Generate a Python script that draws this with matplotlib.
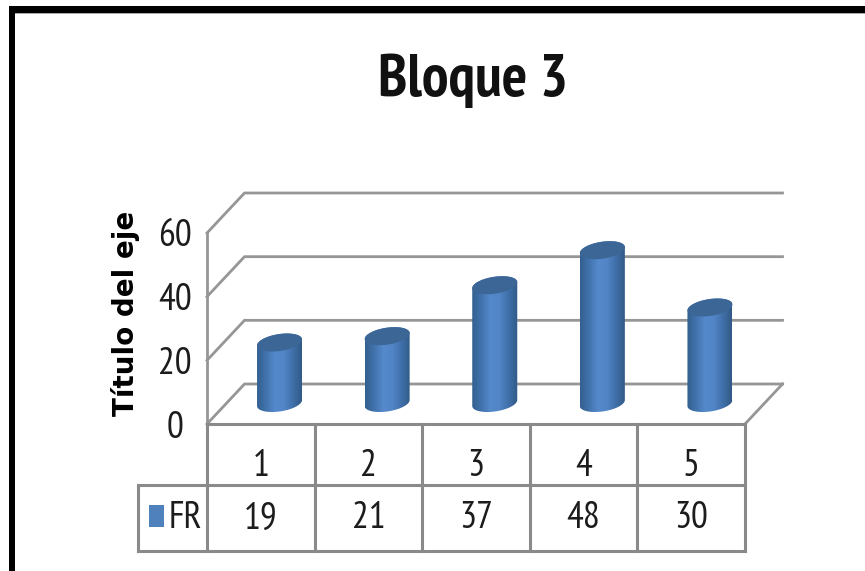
import numpy as np
import matplotlib.pyplot as plt
from matplotlib.colors import LinearSegmentedColormap
from matplotlib.patches import Polygon, Rectangle
from matplotlib.path import Path

categories = ['1', '2', '3', '4', '5']
fr_values = [19, 21, 37, 48, 30]
y_ticks = [0, 20, 40, 60]
series_name = 'FR'
title_text = 'Bloque 3'
y_title = 'Título del eje'

W, H = 865, 571
NARROW = ['PT Sans Narrow', 'Lato', 'DejaVu Sans']
GRID = '#969696'
TABLE = '#8a8a8a'
TEXT = '#1c1c1c'

fig = plt.figure(figsize=(W / 100, H / 100), dpi=100)
ax = fig.add_axes([207 / W, (H - 424) / H, 538 / W, 191 / H])
ax.axis('off')
ax.set_xlim(0.5, 5.5)
ax.set_ylim(0, 60)

# pixels per data unit, used for the oblique depth and the table rows
px_x = 538 / 5
px_y = 191 / 60
depth_x = 37.5 / px_x
depth_y = 40 / px_y

# frame round the picture
fig.add_artist(Rectangle((9 / W, 0), 6 / W, (H - 6) / H, transform=fig.transFigure, fc='black', ec='none'))
fig.add_artist(Rectangle((9 / W, (H - 13) / H), (W - 9) / W, 7 / H, transform=fig.transFigure, fc='black', ec='none'))
fig.add_artist(Rectangle((15 / W, (H - 14) / H), (W - 15) / W, 1 / H, transform=fig.transFigure, fc='#a8a8a8', ec='none'))

fig.text(473 / W, (H - 81) / H, title_text, ha='center', va='center', fontsize=43,
         fontweight='bold', family=NARROW, color='#111111')
fig.text(125 / W, (H - 313) / H, y_title, ha='center', va='center', rotation=90,
         fontsize=20, fontweight='bold', family='DejaVu Sans', color='black')

# walls and floor
ax.add_patch(Polygon([(0.5, 0), (0.5 + depth_x, depth_y), (5.5 + depth_x, depth_y), (5.5, 0)],
                     closed=True, fc='white', ec='none', clip_on=False))
for t in y_ticks:
    ax.plot([0.5, 0.5 + depth_x, 5.5 + depth_x], [t, t + depth_y, t + depth_y], color=GRID, lw=2,
            clip_on=False, solid_joinstyle='miter')
ax.plot([5.5, 5.5 + depth_x], [0, depth_y], color=GRID, lw=2, clip_on=False)
ax.plot([0.5, 0.5], [0, 60], color=GRID, lw=2, clip_on=False)

for t in y_ticks:
    ax.text(0.5 - 32 / px_x, t - 4 / px_y, str(t), ha='center', va='center', fontsize=27, family=NARROW, color=TEXT)

# cylinders
cyl_cmap = LinearSegmentedColormap.from_list('cyl', ['#33608f', '#4273ad', '#5489cb', '#5185c6', '#4070aa', '#325a87'])
grad = np.linspace(0, 1, 64).reshape(1, -1)
rx = 22.5 / px_x
ry = 8.5 / px_y
tilt = 3 / px_y
tt = np.linspace(0, 2 * np.pi, 80)


def ellipse(cx, cy, t):
    return cx + rx * np.cos(t), cy + ry * np.sin(t) + tilt * np.cos(t)


for i, v in enumerate(fr_values):
    cx = i + 1 + depth_x / 2
    base = depth_y / 2 + 1 / px_y
    top = base + v
    bx, by = ellipse(cx, base, np.linspace(np.pi, 2 * np.pi, 40))
    ux, uy = ellipse(cx, top, np.linspace(0, np.pi, 40))
    verts = np.column_stack([np.r_[bx, ux], np.r_[by, uy]])
    im = ax.imshow(grad, extent=[cx - rx, cx + rx, base - ry - tilt, top + ry + tilt], aspect='auto',
                   cmap=cyl_cmap, interpolation='bilinear', zorder=3)
    im.set_clip_path(Path(verts), ax.transData)
    ex, ey = ellipse(cx, top, tt)
    ax.fill(ex, ey, color='#3b6696', lw=0, zorder=4, clip_on=False)

ax.set_xlim(0.5, 5.5)
ax.set_ylim(0, 60)

# data table under the axis
row1 = -61 / px_y
row2 = -127 / px_y
left = 0.5 - 69 / px_x
tk = dict(color=TABLE, lw=2.2, clip_on=False, solid_capstyle='projecting', zorder=5)
ax.plot([0.5, 5.5], [0, 0], **tk)
ax.plot([left, 5.5], [row1, row1], **tk)
ax.plot([left, 5.5], [row2, row2], **tk)
ax.plot([left, left], [row1, row2], **tk)
for k in range(len(categories) + 1):
    ax.plot([0.5 + k, 0.5 + k], [0, row2], **tk)

for i, c in enumerate(categories):
    ax.text(i + 1, -43 / px_y, c, ha='center', va='center', fontsize=27, family=NARROW, color=TEXT)
    ax.text(i + 1, -95 / px_y, str(fr_values[i]), ha='center', va='center', fontsize=27, family=NARROW, color=TEXT)

ax.add_patch(Rectangle((0.5 - 58 / px_x, -103 / px_y), 15.5 / px_x, 22 / px_y, fc='#4f81bd', ec='none', clip_on=False))
ax.text(0.5 - 22 / px_x, -95 / px_y, series_name, ha='center', va='center', fontsize=27, family=NARROW, color=TEXT)

fig.savefig('out.png', dpi=100)
